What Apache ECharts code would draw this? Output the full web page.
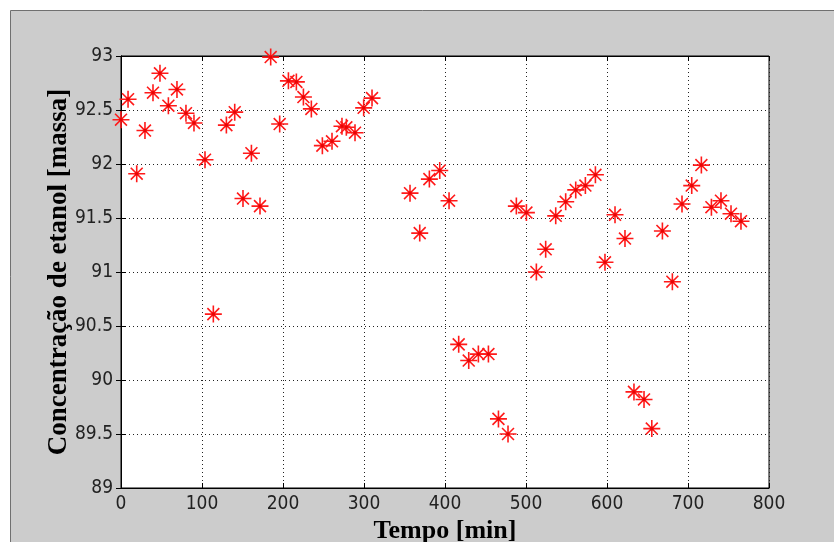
<!DOCTYPE html>
<html>
<head>
<meta charset="utf-8">
<script src="https://cdn.jsdelivr.net/npm/echarts@6/dist/echarts.min.js"></script>
<style>
html,body{margin:0;padding:0;background:#fff;}
#chart{width:834px;height:542px;}
</style>
</head>
<body>
<div id="chart"></div>
<script>
const tempo = [0, 8.7, 19.4, 29.6, 39.5, 48.1, 58.5, 69.1, 80.2, 90.1, 103.7, 114, 130.1, 140.4, 150.6, 161, 171.6, 184.8, 195.9, 206.7, 216.5, 225.2, 235, 248.6, 260.5, 272.8, 278.2, 288.9, 299.6, 309.9, 356.8, 368.8, 380.7, 393.5, 405, 416.9, 429.3, 441.2, 453.6, 466, 477.8, 488.1, 500.5, 512.8, 524.3, 536.7, 549, 561.4, 573.3, 585.7, 597.5, 609.9, 622.2, 633.3, 645.7, 655.3, 668.4, 680.7, 692.6, 704.6, 716.5, 728.9, 740.7, 753.1, 765.4];
const concentracao = [92.41, 92.60, 91.91, 92.31, 92.66, 92.84, 92.54, 92.69, 92.47, 92.38, 92.04, 90.61, 92.36, 92.48, 91.68, 92.10, 91.61, 92.99, 92.37, 92.77, 92.76, 92.62, 92.51, 92.17, 92.21, 92.35, 92.34, 92.29, 92.52, 92.61, 91.73, 91.36, 91.86, 91.94, 91.66, 90.33, 90.18, 90.24, 90.24, 89.64, 89.50, 91.61, 91.55, 91.00, 91.21, 91.52, 91.65, 91.76, 91.80, 91.90, 91.09, 91.53, 91.31, 89.89, 89.82, 89.55, 91.38, 90.91, 91.63, 91.80, 91.99, 91.60, 91.66, 91.54, 91.47];
const xTitle = 'Tempo [min]';
const yTitle = 'Concentração de etanol [massa]';

const pts = tempo.map((t, i) => [t, concentracao[i]]);
const tickFont = {fontFamily: '"Liberation Sans Narrow","DejaVu Sans Condensed",sans-serif', fontSize: 19, color: '#222'};
const titleFont = {fontFamily: '"Liberation Serif",serif', fontWeight: 'bold', fontSize: 26, color: '#000'};
const yTitleFont = Object.assign({}, titleFont, {fontSize: 27});
const star = 'path://M0,-10 L0,10 M-10,0 L10,0 M-7,-7 L7,7 M-7,7 L7,-7';

const chart = echarts.init(document.getElementById('chart'), null, {renderer: 'canvas'});
chart.setOption({
  animation: false,
  backgroundColor: '#ffffff',
  graphic: [{
    type: 'rect', z: -10, silent: true,
    shape: {x: 10.5, y: 10.5, width: 840, height: 550},
    style: {fill: '#cccccc', stroke: '#707070', lineWidth: 1}
  }],
  grid: {left: 121, right: 65, top: 56, bottom: 54, show: true, backgroundColor: '#ffffff', borderColor: '#000', borderWidth: 1, z: 0, containLabel: false, outerBoundsMode: 'none'},
  xAxis: [{
    type: 'value', min: 0, max: 800, interval: 100,
    name: xTitle, nameLocation: 'middle', nameGap: 30, nameMoveOverlap: false, nameTextStyle: titleFont,
    axisLine: {show: true, lineStyle: {color: '#000', width: 1}},
    axisTick: {show: true, inside: true, length: 5, lineStyle: {color: '#000'}},
    axisLabel: Object.assign({margin: 7}, tickFont),
    splitLine: {show: true, lineStyle: {color: '#222', type: [1, 3], width: 1}}
  }, {
    type: 'value', min: 0, max: 800, interval: 100, position: 'top',
    axisLine: {show: true, lineStyle: {color: '#000'}},
    axisTick: {show: true, inside: true, length: 5, lineStyle: {color: '#000'}},
    axisLabel: {show: false}, splitLine: {show: false}
  }],
  yAxis: [{
    type: 'value', min: 89, max: 93, interval: 0.5,
    name: yTitle, nameLocation: 'middle', nameGap: 48, nameRotate: 90, nameMoveOverlap: false, nameTextStyle: yTitleFont,
    axisLine: {show: true, lineStyle: {color: '#000', width: 1}},
    axisTick: {show: true, inside: true, length: 5, lineStyle: {color: '#000'}},
    axisLabel: Object.assign({margin: 8}, tickFont),
    splitLine: {show: true, lineStyle: {color: '#222', type: [1, 3], width: 1}}
  }, {
    type: 'value', min: 89, max: 93, interval: 0.5, position: 'right',
    axisLine: {show: true, lineStyle: {color: '#000'}},
    axisTick: {show: true, inside: true, length: 5, lineStyle: {color: '#000'}},
    axisLabel: {show: false}, splitLine: {show: false}
  }],
  series: [{
    type: 'scatter', xAxisIndex: 0, yAxisIndex: 0,
    data: pts,
    symbol: star, symbolSize: 17,
    itemStyle: {color: '#ff0000', borderColor: '#ff1a1a', borderWidth: 1.6, opacity: 1},
    z: 5
  }, {
    type: 'scatter', xAxisIndex: 0, yAxisIndex: 0,
    data: pts, symbol: 'rect', symbolSize: 3,
    itemStyle: {color: '#e00000'}, silent: true, z: 6
  }]
});
</script>
</body>
</html>
